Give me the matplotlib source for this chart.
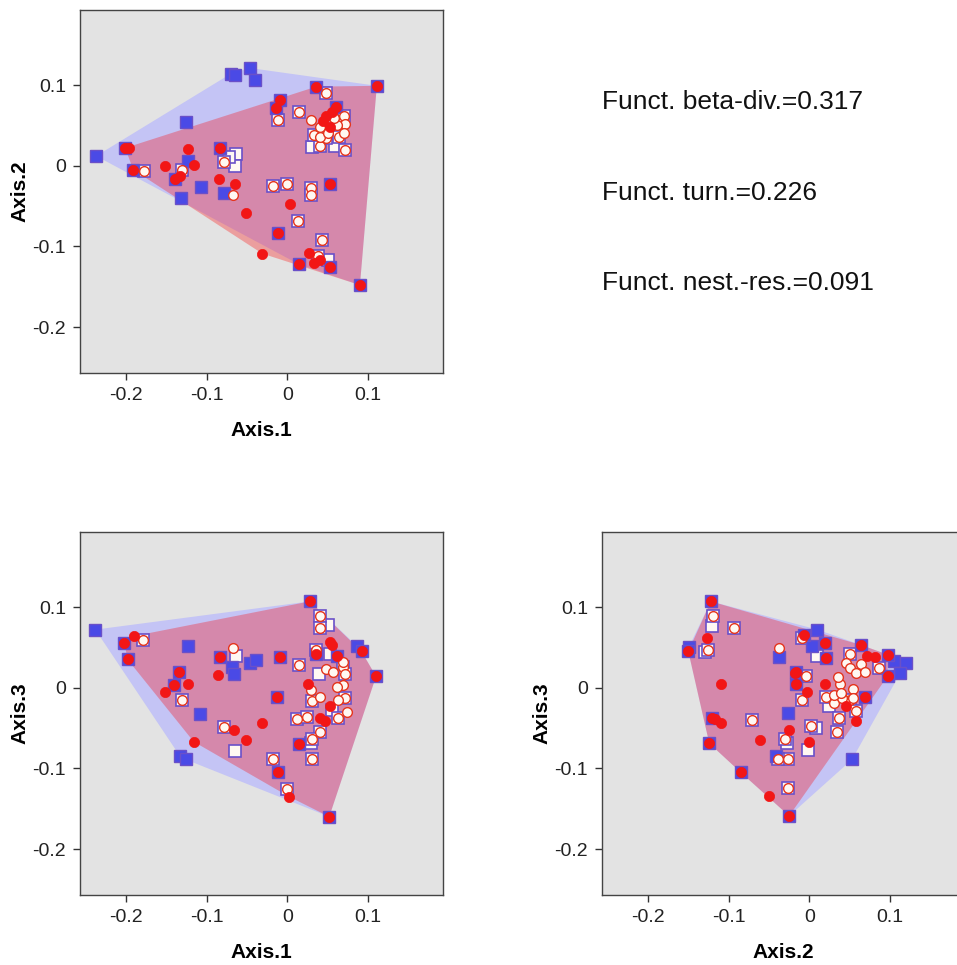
import numpy as np
import matplotlib
matplotlib.use('Agg')
import matplotlib.pyplot as plt
from matplotlib.patches import Polygon

plt.rcParams['font.family'] = ['Liberation Sans', 'DejaVu Sans']

# ---------------- data ----------------
# Panel A: Axis.1 (x) vs Axis.2 (y)
p1_blue_vert = [(-0.237, 0.012), (-0.070, 0.114), (-0.065, 0.113), (-0.046, 0.121),
                (-0.040, 0.106), (-0.126, 0.054), (-0.123, 0.006), (-0.107, -0.026),
                (-0.132, -0.040), (-0.079, -0.034)]
p1_shared_vert = [(0.036, 0.098), (0.111, 0.099), (-0.009, 0.082), (-0.014, 0.072),
                  (-0.201, 0.022), (-0.191, -0.005), (-0.139, -0.016), (-0.083, 0.022),
                  (0.053, -0.023), (-0.012, -0.083), (0.014, -0.122), (0.090, -0.148),
                  (0.053, -0.126), (0.060, 0.073)]
p1_red_vert = [(-0.196, 0.022), (-0.123, 0.021), (-0.152, -0.001), (-0.116, 0.001),
               (-0.133, -0.013), (-0.085, -0.017), (-0.065, -0.023), (-0.051, -0.059),
               (0.003, -0.048), (-0.031, -0.109), (0.027, -0.108), (0.033, -0.121),
               (0.041, -0.117), (0.055, 0.067), (0.048, 0.061), (0.044, 0.056),
               (0.053, 0.048)]
p1_shared_other = [(0.048, 0.090), (-0.012, 0.057), (0.014, 0.067), (0.040, 0.024),
                   (0.072, 0.019), (-0.078, 0.005), (-0.131, -0.005), (-0.178, -0.007),
                   (-0.018, -0.025), (0.000, -0.023), (0.029, -0.028), (0.029, -0.036),
                   (0.013, -0.069), (0.043, -0.092), (0.038, -0.112), (0.070, 0.061),
                   (0.064, 0.036), (0.048, 0.034), (0.033, 0.038)]
p1_red_other = [(-0.067, -0.036), (0.029, 0.057), (0.040, 0.048), (0.040, 0.036),
                (0.072, 0.052), (0.062, 0.050), (0.070, 0.040), (0.058, 0.059),
                (0.050, 0.041)]
p1_blue_other = [(-0.063, 0.014), (-0.065, 0.000), (-0.072, 0.011), (0.031, 0.023),
                 (0.059, 0.024), (0.051, -0.117)]

# Panel B: Axis.1 (x) vs Axis.3 (y)
p3_blue_vert = [(-0.238, 0.072), (-0.123, 0.052), (-0.069, 0.026), (-0.066, 0.017),
                (-0.046, 0.030), (-0.039, 0.034), (-0.108, -0.032), (-0.133, -0.085),
                (-0.126, -0.089), (0.086, 0.052)]
p3_shared_vert = [(0.028, 0.107), (-0.202, 0.056), (-0.198, 0.035), (-0.134, 0.019),
                  (-0.140, 0.003), (-0.084, 0.038), (-0.009, 0.038), (-0.013, -0.012),
                  (0.036, 0.042), (0.092, 0.045), (0.110, 0.014), (0.014, -0.070),
                  (-0.012, -0.104), (0.052, -0.160), (0.061, 0.039)]
p3_red_vert = [(-0.190, 0.064), (-0.152, -0.005), (-0.123, 0.005), (-0.086, 0.016),
               (-0.066, -0.053), (-0.051, -0.065), (-0.031, -0.044), (-0.116, -0.067),
               (0.002, -0.135), (0.026, 0.005), (0.053, 0.057), (0.055, 0.053),
               (0.053, -0.023), (0.040, -0.038), (0.047, -0.041)]
p3_shared_other = [(-0.179, 0.059), (-0.131, -0.015), (-0.079, -0.049), (0.041, 0.089),
                   (0.041, 0.074), (0.015, 0.028), (0.036, 0.047), (-0.018, -0.088),
                   (-0.001, -0.125), (0.030, -0.088), (0.040, -0.055), (0.030, -0.064),
                   (0.012, -0.039), (0.025, -0.036), (0.063, -0.038), (0.031, -0.016),
                   (0.071, -0.013), (0.069, 0.026), (0.071, 0.017)]
p3_red_other = [(-0.067, 0.049), (0.029, -0.003), (0.040, -0.011), (0.048, 0.023),
                (0.057, 0.020), (0.069, 0.003), (0.061, 0.001), (0.063, -0.015),
                (0.074, -0.030), (0.069, 0.032)]
p3_blue_other = [(-0.064, 0.039), (-0.065, -0.078), (0.051, 0.078), (0.039, 0.017),
                 (0.053, 0.042), (0.029, -0.069), (0.056, -0.028)]

# Panel C: Axis.2 (x) vs Axis.3 (y)
p4_blue_vert = [(-0.149, 0.051), (-0.037, 0.038), (0.010, 0.072), (0.003, 0.052),
                (-0.027, -0.031), (-0.041, -0.085), (0.053, -0.089), (0.105, 0.033),
                (0.120, 0.031), (0.112, 0.018)]
p4_shared_vert = [(-0.122, 0.107), (-0.150, 0.045), (-0.124, -0.069), (-0.085, -0.105),
                  (-0.025, -0.159), (-0.016, 0.019), (-0.017, 0.004), (0.020, 0.056),
                  (0.021, 0.037), (0.064, 0.053), (0.097, 0.041), (0.097, 0.014),
                  (-0.121, -0.038), (-0.006, 0.065), (0.069, -0.011)]
p4_red_vert = [(-0.127, 0.062), (-0.110, 0.005), (-0.110, -0.044), (-0.117, -0.039),
               (-0.061, -0.065), (-0.050, -0.134), (-0.025, -0.052), (-0.001, -0.067),
               (-0.003, -0.005), (0.019, 0.005), (0.046, -0.023), (0.058, -0.041),
               (0.072, 0.039), (0.081, 0.038), (-0.018, 0.018)]
p4_shared_other = [(-0.120, 0.089), (-0.125, 0.047), (-0.093, 0.074), (-0.071, -0.040),
                   (-0.009, 0.062), (-0.004, 0.014), (-0.009, -0.015), (-0.030, -0.064),
                   (-0.026, -0.089), (-0.039, -0.089), (-0.026, -0.124), (0.002, -0.048),
                   (0.034, -0.055), (0.037, -0.038), (0.087, 0.024), (0.050, 0.042),
                   (0.050, -0.015), (0.058, -0.029), (0.021, -0.011)]
p4_red_other = [(-0.038, 0.049), (0.031, -0.019), (0.038, 0.004), (0.036, 0.013),
                (0.045, 0.031), (0.050, 0.024), (0.058, 0.018), (0.064, 0.029),
                (0.069, 0.020), (0.054, -0.002), (0.054, -0.013), (0.041, -0.013),
                (0.030, -0.009), (0.039, -0.007)]
p4_blue_other = [(-0.121, 0.077), (-0.002, -0.077), (-0.028, -0.069), (0.010, 0.039),
                 (0.024, -0.023), (0.008, -0.050), (-0.129, 0.044)]

tick_values = [-0.2, -0.1, 0, 0.1]
tick_labels = ['-0.2', '-0.1', '0', '0.1']
stats_labels = ['Funct. beta-div.=0.317', 'Funct. turn.=0.226', 'Funct. nest.-res.=0.091']

# ---------------- styling ----------------
BG = '#e3e3e3'
BLUE_HULL = '#c4c4f5'
BLUE = '#4a4ae6'
PURPLE = '#6a50c8'
RED = '#f21616'
RED_EDGE = '#e5341c'
WHITE = '#fff8f2'
LIM = (-0.257, 0.193)
SQ = 8.4
CI = 7.4


def convex_hull(pts):
    pts = sorted(set(pts))
    if len(pts) < 3:
        return pts

    def cross(o, a, b):
        return (a[0] - o[0]) * (b[1] - o[1]) - (a[1] - o[1]) * (b[0] - o[0])
    lower, upper = [], []
    for p in pts:
        while len(lower) >= 2 and cross(lower[-2], lower[-1], p) <= 0:
            lower.pop()
        lower.append(p)
    for p in reversed(pts):
        while len(upper) >= 2 and cross(upper[-2], upper[-1], p) <= 0:
            upper.pop()
        upper.append(p)
    return lower[:-1] + upper[:-1]


def xy(pts):
    a = np.array(pts, dtype=float)
    return a[:, 0], a[:, 1]


def draw_panel(ax, blue_vert, shared_vert, red_vert, shared_other, red_other, blue_other,
               xlabel, ylabel):
    ax.set_facecolor(BG)
    bh = convex_hull(blue_vert + shared_vert)
    rh = convex_hull(red_vert + shared_vert)
    ax.add_patch(Polygon(bh, closed=True, facecolor=BLUE_HULL, edgecolor='none', zorder=1))
    ax.add_patch(Polygon(rh, closed=True, facecolor=(1, 0, 0, 0.30), edgecolor='none', zorder=2))

    # assemblage 1 species (squares)
    x, y = xy(blue_other + shared_other)
    ax.plot(x, y, 's', ms=SQ, mfc=WHITE, mec=PURPLE, mew=1.2, zorder=3)
    x, y = xy(blue_vert + shared_vert)
    ax.plot(x, y, 's', ms=SQ, mfc=BLUE, mec=PURPLE, mew=1.0, zorder=3)
    # assemblage 2 species (circles)
    x, y = xy(shared_other + red_other)
    ax.plot(x, y, 'o', ms=CI - 0.4, mfc=WHITE, mec=RED_EDGE, mew=1.0, zorder=4)
    x, y = xy(shared_vert + red_vert)
    ax.plot(x, y, 'o', ms=CI, mfc=RED, mec=RED, mew=0.5, zorder=4)

    ax.set_xlim(LIM)
    ax.set_ylim(LIM)
    ax.set_xticks(tick_values)
    ax.set_xticklabels(tick_labels)
    ax.set_yticks(tick_values)
    ax.set_yticklabels(tick_labels)
    ax.tick_params(direction='out', length=5, width=1, colors='#333333',
                   labelsize=14, pad=5, labelcolor='#222222')
    for s in ax.spines.values():
        s.set_color('#444444')
        s.set_linewidth(1.0)
    ax.set_xlabel(xlabel, fontsize=15, fontweight='bold', labelpad=12)
    ax.set_ylabel(ylabel, fontsize=15, fontweight='bold', labelpad=2)


fig = plt.figure(figsize=(9.57, 9.65), dpi=100)
W, H = 957, 965
aw, ah = 363 / W, 363 / H

ax1 = fig.add_axes([80 / W, 1 - 373 / H, aw, ah])
ax3 = fig.add_axes([80 / W, 1 - 895 / H, aw, ah])
ax4 = fig.add_axes([602 / W, 1 - 895 / H, aw, ah])

draw_panel(ax1, p1_blue_vert, p1_shared_vert, p1_red_vert, p1_shared_other,
           p1_red_other, p1_blue_other, 'Axis.1', 'Axis.2')
draw_panel(ax3, p3_blue_vert, p3_shared_vert, p3_red_vert, p3_shared_other,
           p3_red_other, p3_blue_other, 'Axis.1', 'Axis.3')
draw_panel(ax4, p4_blue_vert, p4_shared_vert, p4_red_vert, p4_shared_other,
           p4_red_other, p4_blue_other, 'Axis.2', 'Axis.3')

for lab, ypix in zip(stats_labels, [102, 193, 283]):
    fig.text(602 / W, 1 - ypix / H, lab, fontsize=19, va='center', ha='left', color='#111111')

fig.savefig('out.png', dpi=100, facecolor='white')
